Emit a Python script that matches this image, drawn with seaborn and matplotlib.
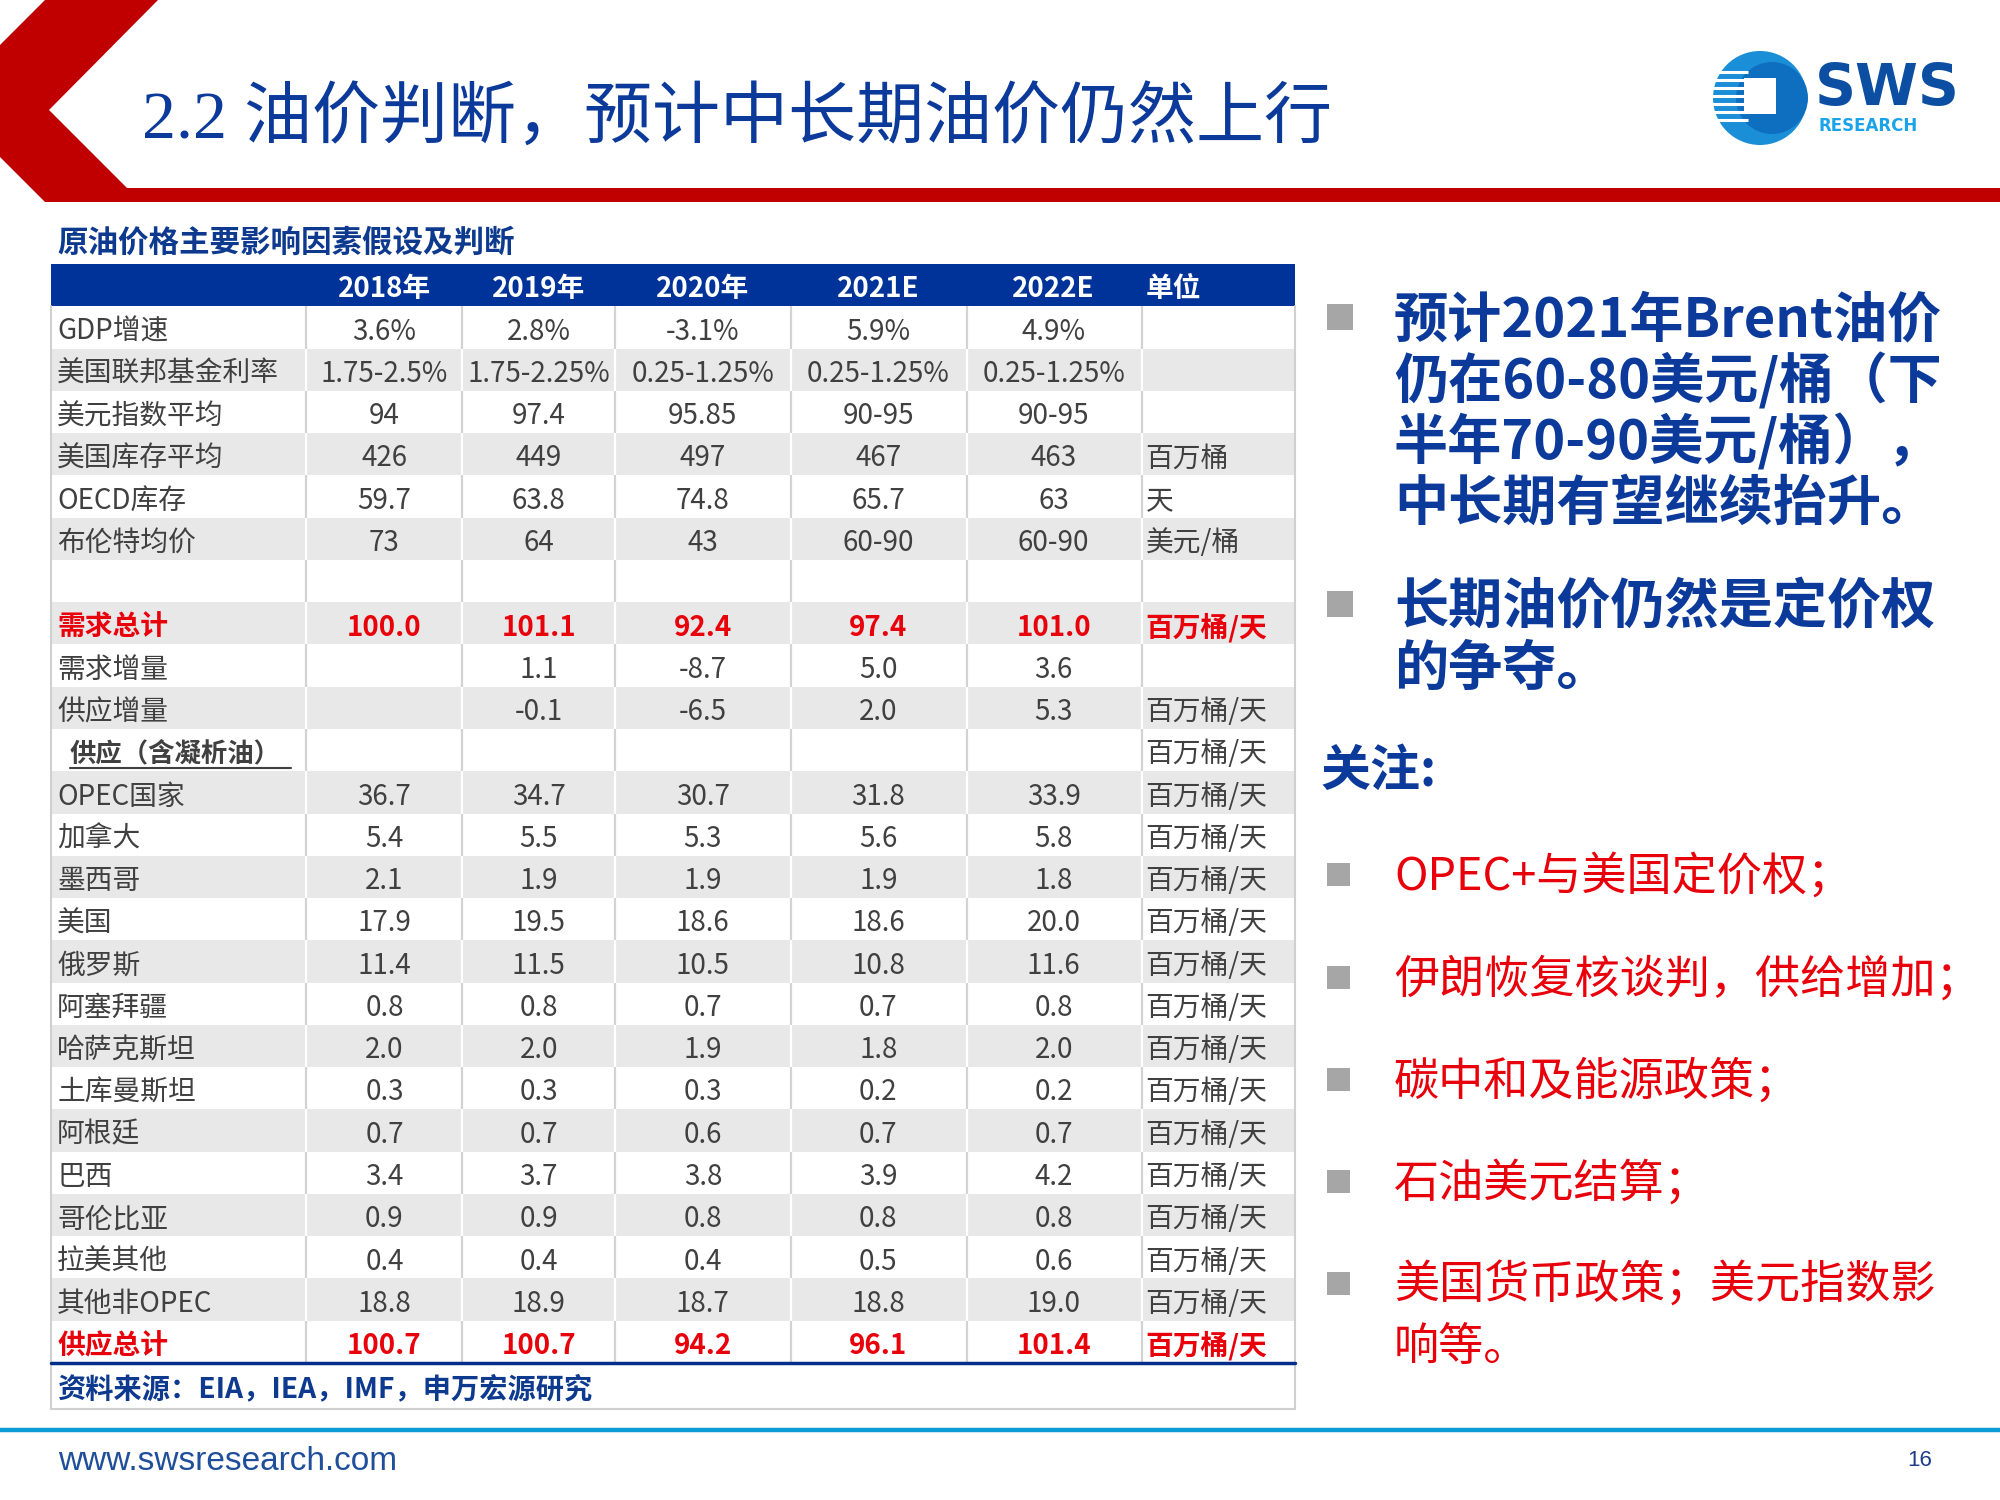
import matplotlib
matplotlib.use("Agg")
import matplotlib.pyplot as plt
import numpy as np
import seaborn as sns
from matplotlib.colors import ListedColormap
from matplotlib.patches import Circle, Polygon, Rectangle

# ---- table data ----
YEARS = ["2018年", "2019年", "2020年", "2021E", "2022E"]
ROW_LABELS = [
    "GDP增速", "美国联邦基金利率", "美元指数平均", "美国库存平均", "OECD库存", "布伦特均价", "",
    "需求总计", "需求增量", "供应增量", "供应（含凝析油）", "OPEC国家", "加拿大", "墨西哥", "美国",
    "俄罗斯", "阿塞拜疆", "哈萨克斯坦", "土库曼斯坦", "阿根廷", "巴西", "哥伦比亚", "拉美其他",
    "其他非OPEC", "供应总计",
]
V2018 = ["3.6%", "1.75-2.5%", "94", "426", "59.7", "73", "", "100.0", "", "", "",
         "36.7", "5.4", "2.1", "17.9", "11.4", "0.8", "2.0", "0.3", "0.7", "3.4", "0.9", "0.4", "18.8", "100.7"]
V2019 = ["2.8%", "1.75-2.25%", "97.4", "449", "63.8", "64", "", "101.1", "1.1", "-0.1", "",
         "34.7", "5.5", "1.9", "19.5", "11.5", "0.8", "2.0", "0.3", "0.7", "3.7", "0.9", "0.4", "18.9", "100.7"]
V2020 = ["-3.1%", "0.25-1.25%", "95.85", "497", "74.8", "43", "", "92.4", "-8.7", "-6.5", "",
         "30.7", "5.3", "1.9", "18.6", "10.5", "0.7", "1.9", "0.3", "0.6", "3.8", "0.8", "0.4", "18.7", "94.2"]
V2021 = ["5.9%", "0.25-1.25%", "90-95", "467", "65.7", "60-90", "", "97.4", "5.0", "2.0", "",
         "31.8", "5.6", "1.9", "18.6", "10.8", "0.7", "1.8", "0.2", "0.7", "3.9", "0.8", "0.5", "18.8", "96.1"]
V2022 = ["4.9%", "0.25-1.25%", "90-95", "463", "63", "60-90", "", "101.0", "3.6", "5.3", "",
         "33.9", "5.8", "1.8", "20.0", "11.6", "0.8", "2.0", "0.2", "0.7", "4.2", "0.8", "0.6", "19.0", "101.4"]
UNITS = ["", "", "", "百万桶", "天", "美元/桶", "", "百万桶/天", "", "百万桶/天", "百万桶/天"] + ["百万桶/天"] * 14
RED_ROWS = ["需求总计", "供应总计"]
SECTION_ROW = "供应（含凝析油）"

# ---- slide text ----
TITLE = "2.2 油价判断，预计中长期油价仍然上行"
SUBTITLE = "原油价格主要影响因素假设及判断"
SOURCE = "资料来源：EIA，IEA，IMF，申万宏源研究"
POINT_1 = ["预计2021年Brent油价", "仍在60-80美元/桶（下", "半年70-90美元/桶），", "中长期有望继续抬升。"]
POINT_2 = ["长期油价仍然是定价权", "的争夺。"]
FOCUS_HEAD = "关注:"
FOCUS_ITEMS = [["OPEC+与美国定价权；"], ["伊朗恢复核谈判，供给增加；"], ["碳中和及能源政策；"],
               ["石油美元结算；"], ["美国货币政策；美元指数影", "响等。"]]

BLUE = "#0B3A9B"
HEAD_BLUE = "#003399"
RED = "#E8000B"
GREY_TXT = "#404040"
SHADE = "#E8E8E8"

sns.set_theme(style="white")
plt.rcParams["font.family"] = ["Noto Sans CJK SC", "DejaVu Sans"]

fig = plt.figure(figsize=(20, 15), dpi=100)

# background axes in pixel coordinates
bg = fig.add_axes([0, 0, 1, 1])
bg.set_xlim(0, 2000)
bg.set_ylim(1500, 0)
bg.axis("off")

# red chevron + bar
bg.add_patch(Polygon([(45, 0), (158, 0), (49, 110), (127, 188), (2000, 188), (2000, 202),
                      (45, 202), (0, 157), (0, 45)], closed=True, color="#C00000", lw=0))
bg.text(142, 120, TITLE, fontsize=49, color=BLUE, va="center", ha="left",
        family=["Liberation Serif", "Noto Sans CJK SC"])

# logo
bg.add_patch(Circle((1760, 98), 47, color="#1A8FD8", lw=0))
bg.add_patch(Circle((1772, 98), 36, color="#0E6FC0", lw=0))
for yy in range(72, 126, 8):
    bg.plot([1712, 1748], [yy, yy], color="white", lw=2.2, solid_capstyle="butt")
bg.add_patch(Rectangle((1744, 78), 32, 36, color="white", lw=0))
bg.text(1815, 90, "SWS", fontsize=41, fontweight="heavy", color="#0B4EA2", va="center",
        ha="left", family="DejaVu Sans")
bg.text(1818, 126, "RESEARCH", fontsize=12, fontweight="bold", color="#1AA3E8", va="center",
        ha="left", family="DejaVu Sans")

# table subtitle
bg.text(57, 243, SUBTITLE, fontsize=22, fontweight="bold", color="#0D3A8E", va="center", ha="left")

# source box
bg.add_patch(Rectangle((51, 1363), 1244, 46, fill=False, edgecolor="#D0D0D0", lw=1.5))
bg.text(57, 1389, SOURCE, fontsize=20.3, fontweight="bold", color="#0D3A8E", va="center", ha="left")

# footer
bg.plot([0, 2000], [1430, 1430], color="#0B9BD7", lw=3.2)
bg.text(58, 1461, "www.swsresearch.com", fontsize=24, color="#1F4E9A", va="center", ha="left",
        family="Liberation Sans")
bg.text(1920, 1461, "16", fontsize=16, color="#1F3C88", va="center", ha="center",
        family="Liberation Sans")

# right-hand points
def bullet(y, size):
    bg.add_patch(Rectangle((1327, y - size / 2), size, size, color="#A6A6A6", lw=0))

for lines, y0 in [(POINT_1, 321), (POINT_2, 608)]:
    bullet(y0 - 4, 26)
    for k, line in enumerate(lines):
        bg.text(1394, y0 + k * 61, line, fontsize=39, fontweight="bold", color=BLUE,
                va="center", ha="left")
bg.text(1320, 771, FOCUS_HEAD, fontsize=36, fontweight="bold", color=BLUE, va="center", ha="left")
for lines, y0 in zip(FOCUS_ITEMS, [877, 980, 1082, 1184, 1286]):
    bullet(y0 - 3, 23)
    for k, line in enumerate(lines):
        bg.text(1394, y0 + k * 61, line, fontsize=32.5, color=RED, va="center", ha="left")

# ---- table via seaborn heatmap (row shading) ----
tax = fig.add_axes([51 / 2000, 1 - 1363 / 1500, 1244 / 2000, (1363 - 264) / 1500])
shade = np.array([2] + [i % 2 for i in range(len(ROW_LABELS))]).reshape(-1, 1)
sns.heatmap(shade, cmap=ListedColormap(["white", SHADE, HEAD_BLUE]), vmin=-0.5, vmax=2.5,
            cbar=False, xticklabels=False, yticklabels=False, ax=tax)
tax.set_xlim(0, 1)
tax.set_ylim(len(ROW_LABELS) + 1, 0)

col_edges = [0.205, 0.330, 0.453, 0.595, 0.736, 0.877]
col_centers = [0.268, 0.392, 0.524, 0.665, 0.806]
unit_x = 0.880
dy = 0.1  # nudge text down so CJK glyphs sit visually centred

# vertical separators, per row
for r in range(len(ROW_LABELS)):
    c = "white" if r % 2 else "#D3D3D3"
    for xe in col_edges:
        tax.plot([xe, xe], [r + 1, r + 2], color=c, lw=1.6, solid_capstyle="butt")
tax.plot([0, 0], [1, len(ROW_LABELS) + 1], color="#D0D0D0", lw=1.5, clip_on=False)
tax.plot([1, 1], [1, len(ROW_LABELS) + 1], color="#D0D0D0", lw=1.5, clip_on=False)

# header
for x, yr in zip(col_centers, YEARS):
    tax.text(x, 0.5 + dy, yr, fontsize=20, fontweight="bold", color="white", ha="center", va="center")
tax.text(unit_x, 0.5 + dy, "单位", fontsize=20, fontweight="bold", color="white", ha="left", va="center")

# body
columns = [V2018, V2019, V2020, V2021, V2022]
for r, label in enumerate(ROW_LABELS):
    yc = r + 1.5 + dy
    red = label in RED_ROWS
    color = RED if red else GREY_TXT
    weight = "bold" if red else "normal"
    if label == SECTION_ROW:
        tax.text(0.015, yc, label, fontsize=19, fontweight="bold", color=GREY_TXT, ha="left", va="center")
        tax.plot([0.015, 0.193], [yc + 0.33, yc + 0.33], color=GREY_TXT, lw=1.5)
    else:
        tax.text(0.005, yc, label, fontsize=20, fontweight=weight, color=color, ha="left", va="center")
    for x, col in zip(col_centers, columns):
        tax.text(x, yc, col[r], fontsize=20, fontweight=weight, color=color, ha="center", va="center")
    tax.text(unit_x, yc, UNITS[r], fontsize=20, fontweight=weight, color=color, ha="left", va="center")

tax.plot([0, 1], [len(ROW_LABELS) + 1] * 2, color="#002C8A", lw=2.5, clip_on=False)

fig.savefig("out.png", dpi=100)
